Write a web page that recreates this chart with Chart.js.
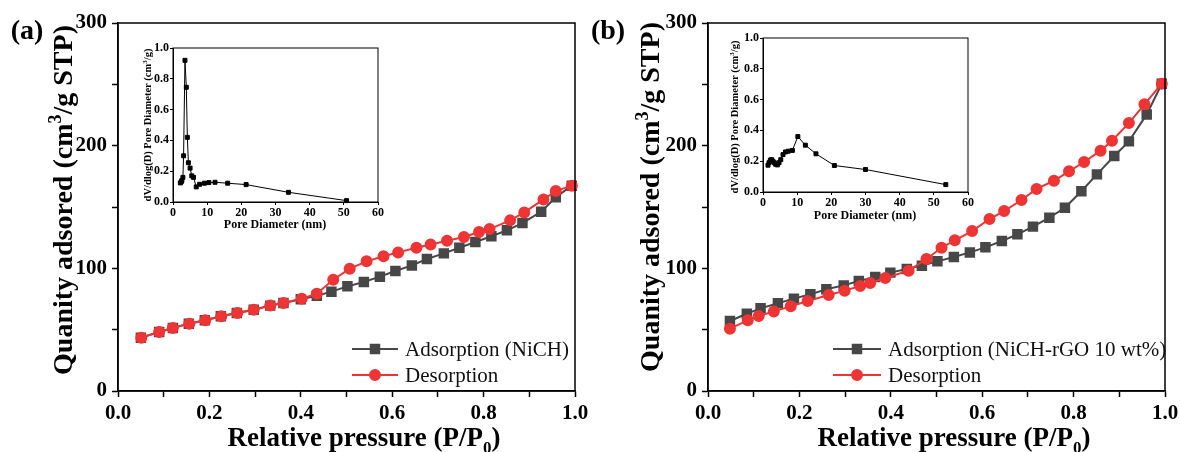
<!DOCTYPE html>
<html>
<head>
<meta charset="utf-8">
<script src="https://cdn.jsdelivr.net/npm/chart.js@4.4.1/dist/chart.umd.min.js"></script>
<style>
  body { margin: 0; background: #fff; }
  #wrap { position: relative; width: 1180px; height: 452px; overflow: hidden; }
  canvas { position: absolute; }
</style>
</head>
<body>
<div id="wrap">
  <canvas id="mainA" width="600" height="452" style="left:0;top:0"></canvas>
  <canvas id="mainB" width="590" height="452" style="left:590px;top:0"></canvas>
  <canvas id="insetA" width="270" height="215" style="left:120px;top:20px"></canvas>
  <canvas id="insetB" width="270" height="215" style="left:710px;top:10px"></canvas>
</div>
<script>
const SERIF = "'Liberation Serif', 'Times New Roman', serif";
const GRAY = "#474747";
const RED = "#ee3434";

// panel (a) NiCH isotherm
const aAdsX = [0.05, 0.09, 0.12, 0.155, 0.19, 0.225, 0.26, 0.297, 0.333, 0.362, 0.40, 0.435, 0.467, 0.502, 0.538, 0.573, 0.607, 0.643, 0.676, 0.713, 0.747, 0.782, 0.817, 0.851, 0.885, 0.926, 0.958, 0.993];
const aAdsY = [43.5, 48.1, 51.4, 54.9, 57.6, 60.9, 63.6, 66.3, 69.6, 71.7, 74.8, 77.7, 81.0, 85.3, 88.8, 93.2, 97.8, 102.4, 107.6, 112.2, 116.8, 121.5, 126.1, 131.0, 136.9, 146.2, 157.9, 167.4];
const aDesX = [0.051, 0.090, 0.120, 0.156, 0.191, 0.226, 0.261, 0.297, 0.333, 0.362, 0.402, 0.435, 0.471, 0.507, 0.544, 0.581, 0.613, 0.653, 0.684, 0.720, 0.757, 0.790, 0.813, 0.858, 0.889, 0.931, 0.958, 0.993];
const aDesY = [43.5, 48.1, 51.4, 54.9, 57.6, 60.9, 63.6, 66.3, 69.6, 71.7, 75.3, 79.3, 90.7, 99.7, 105.7, 109.8, 113.0, 116.8, 119.5, 122.5, 125.5, 129.6, 132.0, 139.1, 145.6, 156.2, 163.0, 167.4];

// panel (b) NiCH-rGO 10 wt% isotherm
const bAdsX = [0.048, 0.085, 0.115, 0.153, 0.188, 0.224, 0.259, 0.297, 0.330, 0.366, 0.399, 0.435, 0.468, 0.502, 0.538, 0.573, 0.607, 0.643, 0.677, 0.711, 0.747, 0.781, 0.817, 0.851, 0.889, 0.921, 0.960, 0.993];
const bAdsY = [57.1, 63.0, 67.4, 71.5, 75.3, 78.8, 82.9, 86.1, 89.7, 92.9, 96.5, 99.4, 102.2, 105.7, 109.2, 113.0, 117.1, 122.3, 127.7, 134.0, 141.3, 149.4, 162.8, 176.6, 191.6, 203.5, 225.5, 250.5];
const bDesX = [0.048, 0.087, 0.111, 0.144, 0.181, 0.218, 0.264, 0.299, 0.333, 0.355, 0.388, 0.439, 0.478, 0.511, 0.540, 0.578, 0.616, 0.648, 0.686, 0.719, 0.757, 0.790, 0.823, 0.859, 0.884, 0.921, 0.955, 0.993];
const bDesY = [50.8, 57.6, 61.1, 64.9, 69.0, 73.4, 78.3, 81.8, 85.6, 88.0, 92.1, 98.1, 107.6, 116.8, 122.8, 130.4, 140.2, 146.7, 155.7, 164.7, 171.4, 179.1, 186.7, 195.9, 204.0, 218.4, 233.7, 250.5];

// insets: pore size distribution
const poreAX = [2.15, 2.4, 2.6, 2.9, 3.1, 3.5, 3.9, 4.2, 4.5, 5.0, 5.5, 6.0, 6.8, 7.8, 9.2, 10.5, 12.3, 16.0, 21.4, 33.8, 50.8];
const poreAY = [0.124, 0.13, 0.14, 0.16, 0.30, 0.92, 0.745, 0.42, 0.255, 0.22, 0.17, 0.16, 0.098, 0.115, 0.122, 0.126, 0.128, 0.122, 0.113, 0.063, 0.009];
const poreBX = [1.46, 1.76, 2.15, 2.5, 2.9, 3.3, 3.7, 4.2, 4.7, 5.2, 5.85, 6.6, 7.4, 8.6, 10.2, 12.4, 15.5, 20.9, 30.0, 53.5];
const poreBY = [0.174, 0.19, 0.207, 0.21, 0.20, 0.19, 0.18, 0.176, 0.19, 0.21, 0.243, 0.26, 0.265, 0.27, 0.36, 0.304, 0.248, 0.172, 0.146, 0.048];

const pts = (xs, ys) => xs.map((x, i) => ({ x: x, y: ys[i] }));

// text with sub/superscripts, parts: {text, size, dy}
function drawRich(ctx, parts, x, y, rotate, bold) {
  ctx.save();
  ctx.translate(x, y);
  if (rotate) ctx.rotate(-Math.PI / 2);
  ctx.fillStyle = "#000";
  ctx.textBaseline = "alphabetic";
  ctx.textAlign = "left";
  const w = (bold ? "bold " : "");
  let total = 0;
  parts.forEach(p => { ctx.font = w + p.size + "px " + SERIF; total += ctx.measureText(p.text).width; });
  let cx = -total / 2;
  parts.forEach(p => {
    ctx.font = w + p.size + "px " + SERIF;
    ctx.fillText(p.text, cx, p.dy || 0);
    cx += ctx.measureText(p.text).width;
  });
  ctx.restore();
}

// box around plot + titles + inside legend
const decor = {
  id: "decor",
  afterDraw(chart, args, o) {
    const ctx = chart.ctx;
    const a = chart.chartArea;
    ctx.save();
    ctx.strokeStyle = "#000";
    ctx.lineWidth = o.frame;
    ctx.strokeRect(a.left, a.top, a.right - a.left, a.bottom - a.top);
    ctx.restore();
    (o.titles || []).forEach(t => drawRich(ctx, t.parts, t.x, t.y, t.rotate, true));
    if (o.legend) {
      const L = o.legend;
      chart.data.datasets.forEach((ds, i) => {
        const y = L.y[i];
        ctx.save();
        ctx.strokeStyle = ds.borderColor;
        ctx.lineWidth = 2;
        ctx.beginPath();
        ctx.moveTo(L.x, y);
        ctx.lineTo(L.x + L.len, y);
        ctx.stroke();
        ctx.fillStyle = ds.pointBackgroundColor;
        ctx.strokeStyle = ds.pointBorderColor;
        Chart.helpers.drawPoint(ctx, { pointStyle: ds.pointStyle, radius: ds.pointRadius, rotation: 0, borderWidth: 1 }, L.x + L.len / 2, y);
        ctx.fillStyle = "#111";
        ctx.font = L.size + "px " + SERIF;
        ctx.textBaseline = "middle";
        ctx.fillText(ds.label, L.x + L.len + 7, y + 1);
        ctx.restore();
      });
    }
  }
};

function fixW(w) {
  return s => { s.width = w; s.paddingTop = 0; s.paddingBottom = 0; };
}
function fixH(h) {
  return s => { s.height = h; s.paddingLeft = 0; s.paddingRight = 0; };
}

function makeMain(id, ads, des, adsLabel, padRight, titles, legend) {
  return new Chart(document.getElementById(id), {
    type: "line",
    data: {
      datasets: [
        {
          label: adsLabel, data: ads, order: 1,
          borderColor: GRAY, borderWidth: 2,
          pointStyle: "rect", pointRadius: 6, pointHoverRadius: 6,
          pointBackgroundColor: GRAY, pointBorderColor: GRAY, clip: false
        },
        {
          label: "Desorption", data: des, order: 0,
          borderColor: RED, borderWidth: 2,
          pointStyle: "circle", pointRadius: 5, pointHoverRadius: 5,
          pointBackgroundColor: RED, pointBorderColor: RED, clip: false
        }
      ]
    },
    options: {
      responsive: false,
      animation: false,
      layout: { padding: { left: 0, top: 23, right: padRight, bottom: 0 } },
      plugins: { legend: { display: false }, tooltip: { enabled: false }, decor: { frame: 1.5, titles: titles, legend: legend } },
      scales: {
        x: {
          type: "linear", min: 0, max: 1,
          afterFit: fixH(61),
          border: { color: "#000", width: 1.5 },
          grid: { drawOnChartArea: false, tickLength: 6, tickColor: "#000", tickWidth: 1.5 },
          ticks: {
            stepSize: 0.1, padding: 4, color: "#000",
            font: { family: SERIF, size: 21, weight: "bold" },
            maxRotation: 0, autoSkip: false,
            callback: v => (Math.round(v * 10) % 2 === 0 ? v.toFixed(1) : "")
          }
        },
        y: {
          min: 0, max: 300,
          afterFit: fixW(118),
          border: { color: "#000", width: 1.5 },
          grid: { drawOnChartArea: false, tickLength: 6, tickColor: "#000", tickWidth: 1.5 },
          ticks: {
            stepSize: 50, padding: 5, color: "#000",
            font: { family: SERIF, size: 21, weight: "bold" },
            autoSkip: false,
            callback: v => (v % 100 === 0 ? String(v) : "")
          }
        }
      }
    },
    plugins: [decor]
  });
}

function makeInset(id, data, titles) {
  return new Chart(document.getElementById(id), {
    type: "line",
    data: {
      datasets: [{
        label: "PSD", data: data,
        borderColor: "#000", borderWidth: 1,
        pointStyle: "rect", pointRadius: 2.8, pointHoverRadius: 2.8,
        pointBackgroundColor: "#000", pointBorderColor: "#000", clip: false
      }]
    },
    options: {
      responsive: false,
      animation: false,
      layout: { padding: { left: 0, top: 28, right: 12, bottom: 0 } },
      plugins: { legend: { display: false }, tooltip: { enabled: false }, decor: { frame: 1, titles: titles } },
      scales: {
        x: {
          type: "linear", min: 0, max: 60,
          afterFit: fixH(33),
          border: { color: "#000", width: 1 },
          grid: { drawOnChartArea: false, tickLength: 3, tickColor: "#000" },
          ticks: { stepSize: 10, padding: 1, color: "#000", maxRotation: 0, font: { family: SERIF, size: 12, weight: "bold" } }
        },
        y: {
          min: 0, max: 1,
          afterFit: fixW(53),
          border: { color: "#000", width: 1 },
          grid: { drawOnChartArea: false, tickLength: 3, tickColor: "#000" },
          ticks: { stepSize: 0.2, padding: 1, color: "#000", font: { family: SERIF, size: 12, weight: "bold" }, callback: v => v.toFixed(1) }
        }
      }
    },
    plugins: [decor]
  });
}

const yTitle = [
  { text: "Quanity adsored (cm", size: 28 },
  { text: "3", size: 18, dy: -11 },
  { text: "/g STP)", size: 28 }
];
const xTitle = [
  { text: "Relative pressure (P/P", size: 27 },
  { text: "0", size: 17, dy: 7 },
  { text: ")", size: 27 }
];
const insetY = [
  { text: "dV/dlog(D) Pore Diameter (cm", size: 10.5 },
  { text: "3", size: 7, dy: -4 },
  { text: "/g)", size: 10.5 }
];
const insetX = [{ text: "Pore Diameter (nm)", size: 12 }];

makeMain("mainA", pts(aAdsX, aAdsY), pts(aDesX, aDesY), "Adsorption (NiCH)", 25, [
  { parts: yTitle, x: 72, y: 200, rotate: true },
  { parts: xTitle, x: 364, y: 446 },
  { parts: [{ text: "(a)", size: 28 }], x: 27, y: 39 }
], { x: 352, len: 46, y: [349, 375], size: 21 });

makeMain("mainB", pts(bAdsX, bAdsY), pts(bDesX, bDesY), "Adsorption (NiCH-rGO 10 wt%)", 15, [
  { parts: yTitle, x: 69, y: 197, rotate: true },
  { parts: xTitle, x: 364, y: 446 },
  { parts: [{ text: "(b)", size: 28 }], x: 18, y: 39 }
], { x: 243, len: 48, y: [349, 375], size: 21 });

makeInset("insetA", pts(poreAX, poreAY), [
  { parts: insetY, x: 31, y: 105, rotate: true },
  { parts: insetX, x: 155, y: 208 }
]);

makeInset("insetB", pts(poreBX, poreBY), [
  { parts: insetY, x: 28, y: 107, rotate: true },
  { parts: insetX, x: 155, y: 209 }
]);
</script>
</body>
</html>
